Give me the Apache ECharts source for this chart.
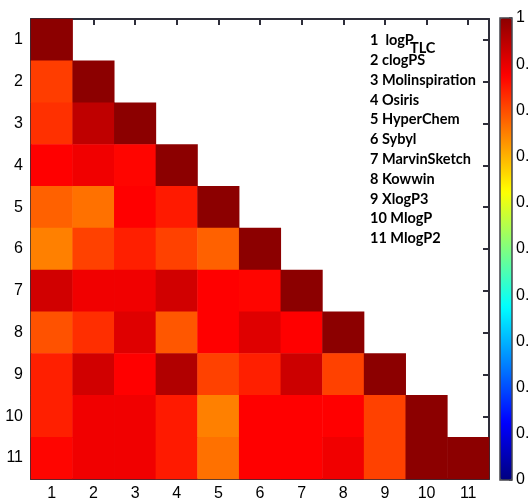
<!DOCTYPE html>
<html>
<head>
<meta charset="utf-8">
<script src="https://cdn.jsdelivr.net/npm/echarts@6/dist/echarts.min.js"></script>
<style>
  html, body { margin: 0; padding: 0; background: #fff; }
  #chart { width: 529px; height: 501px; }
</style>
</head>
<body>
<div id="chart"></div>
<script>
// tick labels of both axes
const cats = ['1', '2', '3', '4', '5', '6', '7', '8', '9', '10', '11']
// names in the key (first one gets a TLC subscript)
const names = ['logP', 'clogPS', 'Molinspiration', 'Osiris', 'HyperChem', 'Sybyl',
    'MarvinSketch', 'Kowwin', 'XlogP3', 'MlogP', 'MlogP2']
const colorbarTicks = [0, 0.1, 0.2, 0.3, 0.4, 0.5, 0.6, 0.7, 0.8, 0.9, 1]

// lower triangle of the correlation matrix, read row by row
const corr = [
    [1],
    [0.815, 1],
    [0.828, 0.945, 1],
    [0.875, 0.89, 0.87, 1],
    [0.78, 0.765, 0.875, 0.85, 1],
    [0.75, 0.812, 0.845, 0.812, 0.78, 1],
    [0.925, 0.89, 0.89, 0.925, 0.875, 0.87, 1],
    [0.795, 0.83, 0.91, 0.79, 0.875, 0.91, 0.875, 1],
    [0.845, 0.925, 0.875, 0.96, 0.812, 0.845, 0.93, 0.812, 1],
    [0.845, 0.89, 0.89, 0.85, 0.75, 0.875, 0.875, 0.875, 0.812, 1],
    [0.87, 0.89, 0.89, 0.85, 0.765, 0.875, 0.875, 0.89, 0.812, 1, 1]
]

function getDatas() {
    const datas = []
    for (let i = 0; i < corr.length; i++) {
        for (let j = 0; j < corr[i].length; j++) {
            datas.push([j, i, corr[i][j]])
        }
    }
    return datas
}

const frame = { show: true, onZero: false, lineStyle: { color: '#2e2e3a', width: 2 } }
const ticks = { show: true, inside: true, length: 6, alignWithLabel: true, lineStyle: { color: '#2e2e3a', width: 2 } }
const tickFont = { color: '#000', fontFamily: 'Liberation Sans', fontSize: 16 }

function keyGraphics() {
    const keyFont = { fontFamily: 'Lato', fontWeight: 'bold', fontSize: 14.5, fill: '#000' }
    const g = []
    for (let i = 0; i < names.length; i++) {
        const txt = i === 0 ? '1  ' + names[0] : (i + 1) + ' ' + names[i]
        g.push({
            type: 'text', left: 370, top: 33 + i * 19.8,
            style: Object.assign({ text: txt }, keyFont)
        })
    }
    g.push({
        type: 'text', left: 410, top: 41,
        style: Object.assign({ text: 'TLC' }, keyFont)
    })
    // colorbar outline
    g.push({
        type: 'rect', z: 100, silent: true,
        shape: { x: 500, y: 18, width: 12, height: 462 },
        style: { fill: 'none', stroke: '#44444c', lineWidth: 1.5 }
    })
    return g
}

function getOptions() {
    return {
        animation: false,
        grid: [
            { left: 31, top: 19, width: 458, height: 460, containLabel: false, outerBoundsMode: 'none' },
            { left: 500, top: 18, width: 12, height: 462, containLabel: false, outerBoundsMode: 'none' }
        ],
        xAxis: [
            { type: 'category', data: cats, gridIndex: 0, position: 'bottom',
              axisLine: frame, axisTick: ticks, splitLine: { show: false },
              axisLabel: Object.assign({ margin: 7 }, tickFont) },
            { type: 'category', data: cats, gridIndex: 0, position: 'top',
              axisLine: frame, axisTick: ticks, axisLabel: { show: false } },
            { type: 'value', gridIndex: 1, show: false, min: 0, max: 1 }
        ],
        yAxis: [
            { type: 'category', data: cats, gridIndex: 0, inverse: true, position: 'left',
              axisLine: frame, axisTick: ticks, splitLine: { show: false },
              axisLabel: Object.assign({ margin: 8 }, tickFont) },
            { type: 'category', data: cats, gridIndex: 0, inverse: true, position: 'right',
              axisLine: frame, axisTick: ticks, axisLabel: { show: false } },
            { type: 'value', gridIndex: 1, position: 'right', min: 0, max: 1, interval: 0.1,
              axisLine: { show: false, onZero: false }, splitLine: { show: false },
              axisTick: { show: true, inside: true, length: 3, lineStyle: { color: '#44444c', width: 1.5 } },
              axisLabel: Object.assign({
                  margin: 4,
                  padding: [5, 0, 0, 0],
                  hideOverlap: false,
                  formatter: function (v) {
                      const r = Math.round(v * 10) / 10
                      return colorbarTicks.indexOf(r) >= 0 ? String(r) : ''
                  }
              }, tickFont) }
        ],
        visualMap: {
            type: 'continuous',
            min: 0, max: 1,
            seriesIndex: 0,
            calculable: false,
            hoverLink: false,
            orient: 'vertical',
            left: 500, top: 18,
            itemWidth: 12, itemHeight: 462,
            padding: 0,
            text: null,
            showLabel: false,
            inRange: {
                color: ['#000080', '#0000ff', '#0080ff', '#00ffff', '#80ff80',
                    '#ffff00', '#ff8000', '#ff0000', '#8c0000']
            }
        },
        graphic: keyGraphics(),
        series: [
            {
                type: 'heatmap',
                xAxisIndex: 0, yAxisIndex: 0,
                data: getDatas(),
                itemStyle: { borderWidth: 0 },
                emphasis: { disabled: true }
            }
        ]
    }
}

const chart = echarts.init(document.getElementById('chart'))
chart.setOption(getOptions())
</script>
</body>
</html>
